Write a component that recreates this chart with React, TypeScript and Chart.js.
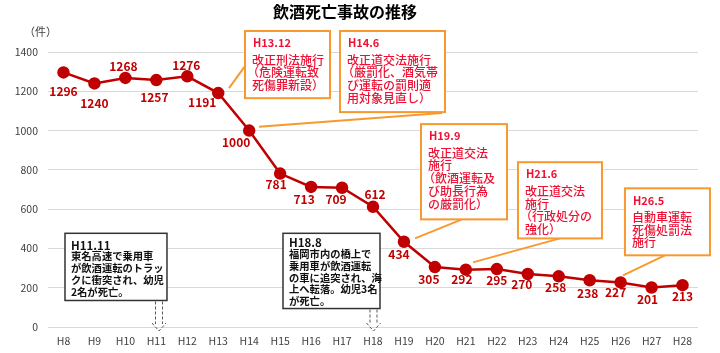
import React, { useEffect, useRef } from 'react';
import { Chart, registerables } from 'chart.js';

Chart.register(...registerables);

const FONT = "'Noto Sans CJK JP', 'Noto Sans', sans-serif";

const categories = ['H8', 'H9', 'H10', 'H11', 'H12', 'H13', 'H14', 'H15', 'H16', 'H17', 'H18', 'H19', 'H20', 'H21', 'H22', 'H23', 'H24', 'H25', 'H26', 'H27', 'H28'];
const deaths = [1296, 1240, 1268, 1257, 1276, 1191, 1000, 781, 713, 709, 612, 434, 305, 292, 295, 270, 258, 238, 227, 201, 213];
const yTickValues = [0, 200, 400, 600, 800, 1000, 1200, 1400];
const chartTitle = '飲酒死亡事故の推移';
const unitLabel = '（件）';

// label offsets (px) relative to each point
const labelOffsets: [number, number][] = [
  [0, 19], [0, 20], [-2, -11], [-2, 17], [-1, -11], [-16, 9], [-13, 12], [-4, 11], [-7, 12], [-6, 12],
  [2, -12], [-5, 13], [-6, 12], [-4, 10], [0, 11], [-6, 10], [-3, 11], [-2, 13], [-5, 10], [-4, 12], [0, 11],
];

// law revision notices (orange boxes), positions in (category index, value) space
const lawNotices = [
  { head: 'H13.12', lines: ['改正刑法施行', '（危険運転致', '死傷罪新設）'], x0: 5.865, x1: 8.611, y0: 1507, y1: 1165, from: [5.347, 1216], to: [5.865, 1328] },
  { head: 'H14.6', lines: ['改正道交法施行', '（厳罰化、酒気帯', 'び運転の罰則適', '用対象見直し）'], x0: 8.933, x1: 12.326, y0: 1507, y1: 1094, from: [6.317, 1019], to: [12.23, 1089] },
  { head: 'H19.9', lines: ['改正道交法', '施行', '（飲酒運転及', 'び助長行為', 'の厳罰化）'], x0: 11.551, x1: 14.33, y0: 1033, y1: 548, from: [11.357, 451], to: [12.874, 548] },
  { head: 'H21.6', lines: ['改正道交法', '施行', '（行政処分の', '強化）'], x0: 14.684, x1: 17.398, y0: 839, y1: 451, from: [13.23, 329], to: [16.04, 451] },
  { head: 'H26.5', lines: ['自動車運転', '死傷処罰法', '施行'], x0: 18.14, x1: 20.887, y0: 706, y1: 365, from: [18.077, 263], to: [19.43, 365] },
];

// accident notices (black boxes)
const accidentNotices = [
  { head: 'H11.11', lines: ['東名高速で乗用車', 'が飲酒運転のトラッ', 'クに衝突され、幼児', '2名が死亡。'], x0: 0.049, x1: 3.344, y0: 477, y1: 135, arrowX: 3.086, headOff: 12, bodyOff: 23, step: 12 },
  { head: 'H18.8', lines: ['福岡市内の橋上で', '乗用車が飲酒運転', 'の車に追突され、海', '上へ転落。幼児3名', 'が死亡。'], x0: 7.092, x1: 10.226, y0: 477, y1: 94, arrowX: 10.016, headOff: 9, bodyOff: 21, step: 11.7 },
];

const overlayPlugin = {
  id: 'overlay',
  afterDraw(chart: any) {
    const ctx: CanvasRenderingContext2D = chart.ctx;
    const xs = chart.scales.x;
    const ys = chart.scales.y;
    const px = (i: number) => xs.getPixelForValue(i);
    const py = (v: number) => ys.getPixelForValue(v);
    ctx.save();

    // title
    ctx.fillStyle = '#000';
    ctx.font = `bold 16px ${FONT}`;
    ctx.textAlign = 'center';
    ctx.textBaseline = 'middle';
    ctx.fillText(chartTitle, 345, 12);

    // unit
    ctx.fillStyle = '#404040';
    ctx.font = `11px ${FONT}`;
    ctx.textAlign = 'left';
    ctx.fillText(unitLabel, 24, 32);

    // data labels
    const meta = chart.getDatasetMeta(0);
    ctx.fillStyle = '#C00000';
    ctx.font = `bold 12px ${FONT}`;
    ctx.textAlign = 'center';
    meta.data.forEach((pt: any, i: number) => {
      const [dx, dy] = labelOffsets[i];
      ctx.fillText(String(deaths[i]), pt.x + dx, pt.y + dy);
    });

    // law notices
    lawNotices.forEach((n) => {
      const l = px(n.x0), r = px(n.x1), t = py(n.y0), b = py(n.y1);
      ctx.strokeStyle = '#F8992F';
      ctx.lineWidth = 2;
      ctx.setLineDash([]);
      ctx.beginPath();
      ctx.moveTo(px(n.from[0]), py(n.from[1]));
      ctx.lineTo(px(n.to[0]), py(n.to[1]));
      ctx.stroke();
      ctx.fillStyle = '#fff';
      ctx.fillRect(l, t, r - l, b - t);
      ctx.strokeRect(l, t, r - l, b - t);
      ctx.fillStyle = '#EE1133';
      ctx.textAlign = 'left';
      ctx.font = `bold 11px ${FONT}`;
      ctx.fillText(n.head, l + 8, t + 12);
      ctx.font = `500 12px ${FONT}`;
      n.lines.forEach((s, k) => {
        const shift = s.startsWith('（') ? -5 : 0;
        ctx.fillText(s, l + 7 + shift, t + 29 + k * 12.8);
      });
    });

    // accident notices
    accidentNotices.forEach((n) => {
      const l = px(n.x0), r = px(n.x1), t = py(n.y0), b = py(n.y1);
      ctx.fillStyle = '#fff';
      ctx.fillRect(l, t, r - l, b - t);
      ctx.strokeStyle = '#333';
      ctx.lineWidth = 1.5;
      ctx.setLineDash([]);
      ctx.strokeRect(l, t, r - l, b - t);
      ctx.fillStyle = '#111';
      ctx.textAlign = 'left';
      ctx.font = `bold 11.5px ${FONT}`;
      ctx.fillText(n.head, l + 6, t + n.headOff);
      ctx.font = `bold 10.3px ${FONT}`;
      n.lines.forEach((s, k) => ctx.fillText(s, l + 6, t + n.bodyOff + k * n.step));
      // dashed arrow
      const cx = px(n.arrowX);
      const tip = py(0) + 4;
      ctx.strokeStyle = '#555';
      ctx.lineWidth = 1;
      ctx.setLineDash([3, 2]);
      ctx.beginPath();
      ctx.moveTo(cx - 3.5, b + 1);
      ctx.lineTo(cx - 3.5, tip - 7);
      ctx.moveTo(cx + 3.5, b + 1);
      ctx.lineTo(cx + 3.5, tip - 7);
      ctx.moveTo(cx - 7, tip - 8);
      ctx.lineTo(cx, tip);
      ctx.lineTo(cx + 7, tip - 8);
      ctx.stroke();
    });

    ctx.restore();
  },
};

export default function App() {
  const ref = useRef<HTMLCanvasElement | null>(null);
  useEffect(() => {
    if (!ref.current) return;
    const chart = new Chart(ref.current, {
      type: 'line',
      data: {
        labels: categories,
        datasets: [
          {
            data: deaths,
            borderColor: '#C00000',
            backgroundColor: '#C00000',
            borderWidth: 2.5,
            pointRadius: 5,
            pointHoverRadius: 5,
            pointBackgroundColor: '#C00000',
            pointBorderColor: '#C00000',
            tension: 0,
          },
        ],
      },
      options: {
        responsive: false,
        animation: false,
        layout: { padding: { top: 52, right: 22, left: 0, bottom: 0 } },
        plugins: { legend: { display: false }, title: { display: false }, tooltip: { enabled: false } },
        scales: {
          x: {
            offset: true,
            grid: { display: false, drawTicks: false },
            border: { display: false },
            ticks: { color: '#404040', font: { family: FONT, size: 10.5 }, padding: 8, maxRotation: 0 },
            afterFit: (s: any) => { s.height = 26; },
          },
          y: {
            min: 0,
            max: 1400,
            afterBuildTicks: (s: any) => { s.ticks = yTickValues.map((v) => ({ value: v })); },
            grid: { color: '#d9d9d9', lineWidth: 1, drawTicks: false },
            border: { display: false },
            ticks: { color: '#404040', font: { family: FONT, size: 10.5 }, padding: 10, callback: (v: any) => String(v) },
            afterFit: (s: any) => { s.width = 48; },
          },
        },
      },
      plugins: [overlayPlugin],
    });
    return () => chart.destroy();
  }, []);
  return (
    <div style={{ position: 'fixed', left: 0, top: 0, width: 720, height: 353, background: '#fff' }}>
      <canvas ref={ref} width={720} height={353} />
    </div>
  );
}
